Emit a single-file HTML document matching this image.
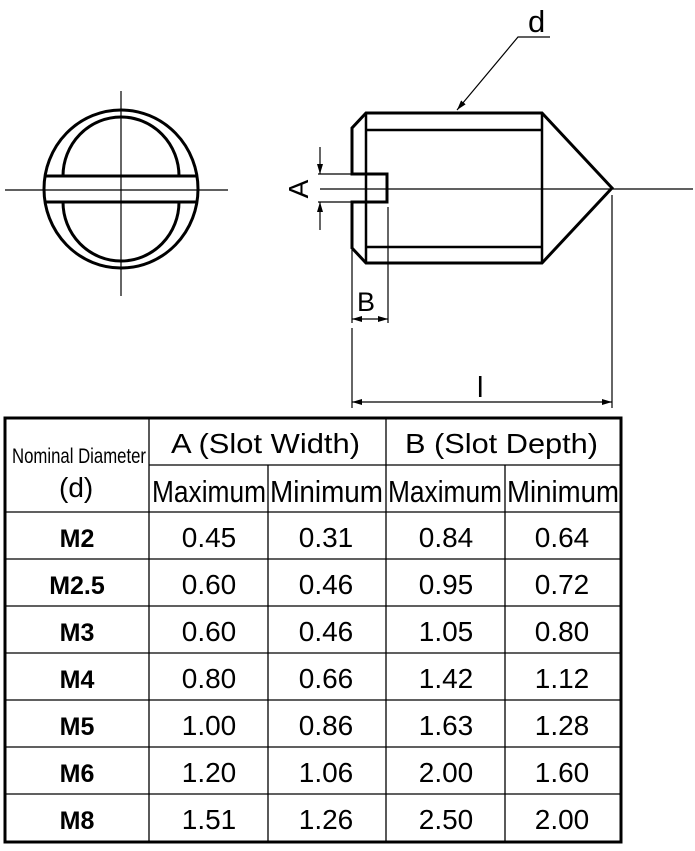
<!DOCTYPE html>
<html><head><meta charset="utf-8"><style>
body{margin:0;width:695px;height:851px;background:#fff;overflow:hidden;font-family:"Liberation Sans",sans-serif;}
svg{position:absolute;left:0;top:0}
</style></head><body>
<svg width="695" height="851" viewBox="0 0 695 851">
<defs><marker id="ar" markerWidth="10" markerHeight="6" refX="10" refY="3" orient="auto" markerUnits="userSpaceOnUse"><path d="M0,0 L10,3 L0,6 z" fill="#000"/></marker></defs>
<g fill="none" stroke="#000">
<ellipse cx="121" cy="189" rx="77" ry="79" stroke-width="3"/>
<path d="M63,176 A58,59 0 0 1 179,176 M63,202 A58,59 0 0 0 179,202" stroke-width="3"/>
<line x1="45" y1="176" x2="198" y2="176" stroke-width="3"/>
<line x1="45" y1="202" x2="198" y2="202" stroke-width="3"/>
<line x1="121" y1="91" x2="121" y2="296" stroke-width="1.2"/>
<line x1="5" y1="190" x2="228" y2="190" stroke-width="1.2"/>
<path d="M366,113 L542,113 L612,188 L542,263 L366,263 L352,248 L352,202 L387,202 L387,174 L352,174 L352,128 Z" stroke-width="3"/>
<line x1="366" y1="113" x2="366" y2="263" stroke-width="2.5"/>
<line x1="542" y1="113" x2="542" y2="263" stroke-width="2.5"/>
<line x1="366" y1="130" x2="542" y2="130" stroke-width="2.5"/>
<line x1="366" y1="247" x2="542" y2="247" stroke-width="2.5"/>
<line x1="320" y1="189" x2="693" y2="189" stroke-width="1.2"/>
<line x1="318" y1="174" x2="352" y2="174" stroke-width="1.2"/>
<line x1="318" y1="202" x2="352" y2="202" stroke-width="1.2"/>
<line x1="320" y1="147" x2="320" y2="174" stroke-width="1.2" marker-end="url(#ar)"/>
<line x1="320" y1="230" x2="320" y2="202" stroke-width="1.2" marker-end="url(#ar)"/>
<line x1="352" y1="250" x2="352" y2="323" stroke-width="1.2"/>
<line x1="388" y1="207" x2="388" y2="323" stroke-width="1.2"/>
<line x1="370" y1="319" x2="352" y2="319" stroke-width="1.2" marker-end="url(#ar)"/>
<line x1="370" y1="319" x2="388" y2="319" stroke-width="1.2" marker-end="url(#ar)"/>
<line x1="352" y1="328" x2="352" y2="408" stroke-width="1.2"/>
<line x1="612" y1="195" x2="612" y2="408" stroke-width="1.2"/>
<line x1="482" y1="402" x2="352" y2="402" stroke-width="1.2" marker-end="url(#ar)"/>
<line x1="482" y1="402" x2="612" y2="402" stroke-width="1.2" marker-end="url(#ar)"/>
<polyline points="550,37 518,37 457,110" stroke-width="1.2" marker-end="url(#ar)"/>
</g>
<g font-family="Liberation Sans, sans-serif" fill="#000">
<text x="528" y="32" font-size="31">d</text>
<text x="0" y="0" font-size="28" transform="translate(308,189) rotate(-90)" text-anchor="middle">A</text>
<text x="357" y="311" font-size="27">B</text>
<text x="477" y="397" font-size="29">l</text>
</g>
<g stroke="#000" fill="none">
<rect x="5" y="418" width="616" height="424" stroke-width="3"/>
<g stroke-width="1.3">
<line x1="149" y1="418" x2="149" y2="842"/>
<line x1="386" y1="418" x2="386" y2="842"/>
<line x1="268" y1="465" x2="268" y2="842"/>
<line x1="505" y1="465" x2="505" y2="842"/>
<line x1="149" y1="465" x2="621" y2="465"/>
<line x1="5" y1="512" x2="621" y2="512"/>
<line x1="5" y1="559" x2="621" y2="559"/>
<line x1="5" y1="606" x2="621" y2="606"/>
<line x1="5" y1="653" x2="621" y2="653"/>
<line x1="5" y1="700" x2="621" y2="700"/>
<line x1="5" y1="747" x2="621" y2="747"/>
<line x1="5" y1="794" x2="621" y2="794"/>
</g></g>
<g font-family="Liberation Sans, sans-serif" fill="#000" font-size="27">
<text x="12" y="463" font-size="21" textLength="134" lengthAdjust="spacingAndGlyphs">Nominal Diameter</text>
<text x="59" y="497" font-size="28">(d)</text>
<text x="171" y="453" font-size="28" textLength="189" lengthAdjust="spacingAndGlyphs">A (Slot Width)</text>
<text x="405" y="453" font-size="28" textLength="193" lengthAdjust="spacingAndGlyphs">B (Slot Depth)</text>
<g font-size="31">
<text x="152" y="502" textLength="114" lengthAdjust="spacingAndGlyphs">Maximum</text>
<text x="270" y="502" textLength="113" lengthAdjust="spacingAndGlyphs">Minimum</text>
<text x="388" y="502" textLength="114" lengthAdjust="spacingAndGlyphs">Maximum</text>
<text x="507" y="502" textLength="112" lengthAdjust="spacingAndGlyphs">Minimum</text>
</g>
<g font-weight="bold" font-size="25" text-anchor="middle">
<text x="77" y="547">M2</text><text x="77" y="594">M2.5</text><text x="77" y="641">M3</text><text x="77" y="688">M4</text><text x="77" y="735">M5</text><text x="77" y="782">M6</text><text x="77" y="829">M8</text>
</g>
<g text-anchor="middle" font-size="28">
<text x="209" y="547">0.45</text><text x="326" y="547">0.31</text><text x="446" y="547">0.84</text><text x="562" y="547">0.64</text>
<text x="209" y="594">0.60</text><text x="326" y="594">0.46</text><text x="446" y="594">0.95</text><text x="562" y="594">0.72</text>
<text x="209" y="641">0.60</text><text x="326" y="641">0.46</text><text x="446" y="641">1.05</text><text x="562" y="641">0.80</text>
<text x="209" y="688">0.80</text><text x="326" y="688">0.66</text><text x="446" y="688">1.42</text><text x="562" y="688">1.12</text>
<text x="209" y="735">1.00</text><text x="326" y="735">0.86</text><text x="446" y="735">1.63</text><text x="562" y="735">1.28</text>
<text x="209" y="782">1.20</text><text x="326" y="782">1.06</text><text x="446" y="782">2.00</text><text x="562" y="782">1.60</text>
<text x="209" y="829">1.51</text><text x="326" y="829">1.26</text><text x="446" y="829">2.50</text><text x="562" y="829">2.00</text>
</g>
</g>
</svg>
</body></html>
